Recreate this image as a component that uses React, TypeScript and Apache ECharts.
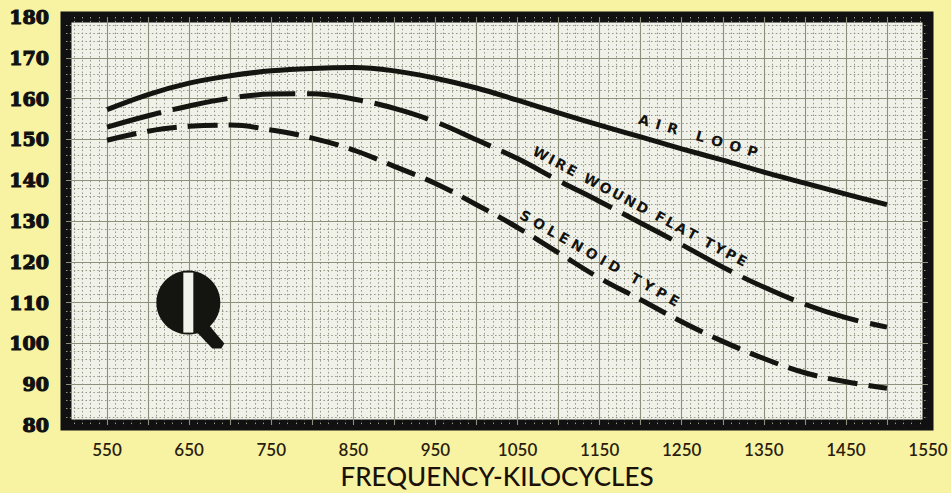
import React, { useEffect, useRef } from "react";
import * as echarts from "echarts";

const frequencies = [550, 600, 650, 700, 750, 800, 850, 900, 950, 1000, 1050, 1100, 1150, 1200, 1250, 1300, 1350, 1400, 1450, 1500];
const airLoop = [157.3, 161, 163.8, 165.6, 166.8, 167.4, 167.6, 166.8, 165.0, 162.6, 159.6, 156.5, 153.5, 150.6, 147.7, 144.9, 142, 139.3, 136.6, 134];
const wireWoundFlat = [153, 155.8, 158.2, 160.1, 161.1, 161.2, 159.9, 157.6, 154.3, 149.9, 145.3, 139.9, 134.8, 129.5, 124.2, 118.7, 113.8, 109.6, 106.3, 104];
const solenoid = [149.8, 152, 153.2, 153.5, 152.3, 150.3, 147.4, 143.4, 139.2, 134, 128.4, 122.2, 116, 110.7, 105.3, 100.5, 96.3, 92.8, 90.6, 89];

const xTickLabels = [550, 650, 750, 850, 950, 1050, 1150, 1250, 1350, 1450, 1550];
const curveLabels = [
  { text: "AIR LOOP", at: [1270, 150.9], angle: -16, size: 14, sep: "\u2002" },
  { text: "WIRE WOUND FLAT TYPE", at: [1199, 133.6], angle: -28, size: 14, sep: "\u2006" },
  { text: "SOLENOID TYPE", at: [1150, 120.9], angle: -29.5, size: 14, sep: "\u2004" },
];
const qLogoAt = [649, 110];

export default function App() {
  const ref = useRef<HTMLDivElement>(null);
  useEffect(() => {
    if (!ref.current) return;
    const chart = echarts.init(ref.current, null, { renderer: "svg" });
    const pair = (ys: number[]) => frequencies.map((f, i) => [f, ys[i]]);
    const ink = "#141410";
    chart.setOption({
      animation: false,
      backgroundColor: "#f8f3a2",
      grid: {
        left: 66,
        right: 23,
        top: 17,
        bottom: 68,
        show: true,
        backgroundColor: "#f0f1e8",
        borderColor: "#111111",
        borderWidth: 11,
      },
      xAxis: {
        type: "value",
        min: 500,
        max: 1550,
        interval: 50,
        axisLine: { show: false },
        axisTick: { show: false },
        axisLabel: {
          margin: 16,
          color: "#2b1d0e",
          fontFamily: "Lato",
          fontWeight: 600,
          fontSize: 17,
          formatter: (v: number) => (xTickLabels.includes(v) ? String(v) : ""),
        },
        splitLine: { show: true, showMinLine: false, showMaxLine: false, lineStyle: { color: "#8e907c", width: 1.1 } },
        minorTick: { show: true, splitNumber: 5, length: 0 },
        minorSplitLine: { show: true, lineStyle: { color: "#949684", width: 1, type: [1.5, 2.4] } },
      },
      yAxis: {
        type: "value",
        min: 80,
        max: 180,
        interval: 10,
        axisLine: { show: false },
        axisTick: { show: false },
        axisLabel: {
          margin: 17,
          color: "#111111",
          fontFamily: "'DejaVu Serif', serif",
          fontWeight: "bold",
          fontSize: 19,
          textBorderColor: "#111111",
          textBorderWidth: 1.2,
        },
        splitLine: { show: true, showMinLine: false, showMaxLine: false, lineStyle: { color: "#8e907c", width: 1.1 } },
        minorTick: { show: true, splitNumber: 5, length: 0 },
        minorSplitLine: { show: true, lineStyle: { color: "#949684", width: 1, type: [1.5, 2.4] } },
      },
      series: [
        {
          name: "Air Loop",
          type: "line",
          data: pair(airLoop),
          smooth: 0.4,
          symbol: "none",
          lineStyle: { color: ink, width: 5 },
        },
        {
          name: "Wire Wound Flat Type",
          type: "line",
          data: pair(wireWoundFlat),
          smooth: 0.4,
          symbol: "none",
          lineStyle: { color: ink, width: 5, type: [56, 12] },
        },
        {
          name: "Solenoid Type",
          type: "line",
          data: pair(solenoid),
          smooth: 0.4,
          symbol: "none",
          lineStyle: { color: ink, width: 5, type: [30, 11] },
        },
      ],
    });

    const toPx = (p: number[]) => chart.convertToPixel({ gridIndex: 0 }, p) as number[];
    const graphics: any[] = curveLabels.map((l) => {
      const [x, y] = toPx(l.at);
      return {
        type: "text",
        x,
        y,
        rotation: (l.angle * Math.PI) / 180,
        z: 20,
        style: {
          text: l.text.split("").join(l.sep),
          fill: ink,
          font: `bold ${l.size}px "DejaVu Sans"`,
          align: "center",
          verticalAlign: "middle",
        },
      };
    });
    const [qx, qy] = toPx(qLogoAt);
    graphics.push({
      type: "group",
      x: qx,
      y: qy,
      z: 20,
      children: [
        { type: "polygon", shape: { points: [[6, 27], [21, 23], [36, 41], [33, 46], [24, 46]] }, style: { fill: ink } },
        { type: "circle", shape: { cx: 0, cy: 0, r: 32 }, style: { fill: ink } },
        { type: "rect", shape: { x: -5, y: -30, width: 10, height: 60 }, style: { fill: "#f2f3ea" } },
      ],
    });
    graphics.push({
      type: "text",
      x: 497,
      y: 476,
      style: {
        text: "FREQUENCY-KILOCYCLES",
        fill: "#1a1208",
        font: '500 26px "Lato"',
        align: "center",
        verticalAlign: "middle",
      },
    });
    chart.setOption({ graphic: graphics });
    return () => chart.dispose();
  }, []);
  return <div ref={ref} style={{ position: "absolute", left: 0, top: 0, width: 951, height: 493 }} />;
}
